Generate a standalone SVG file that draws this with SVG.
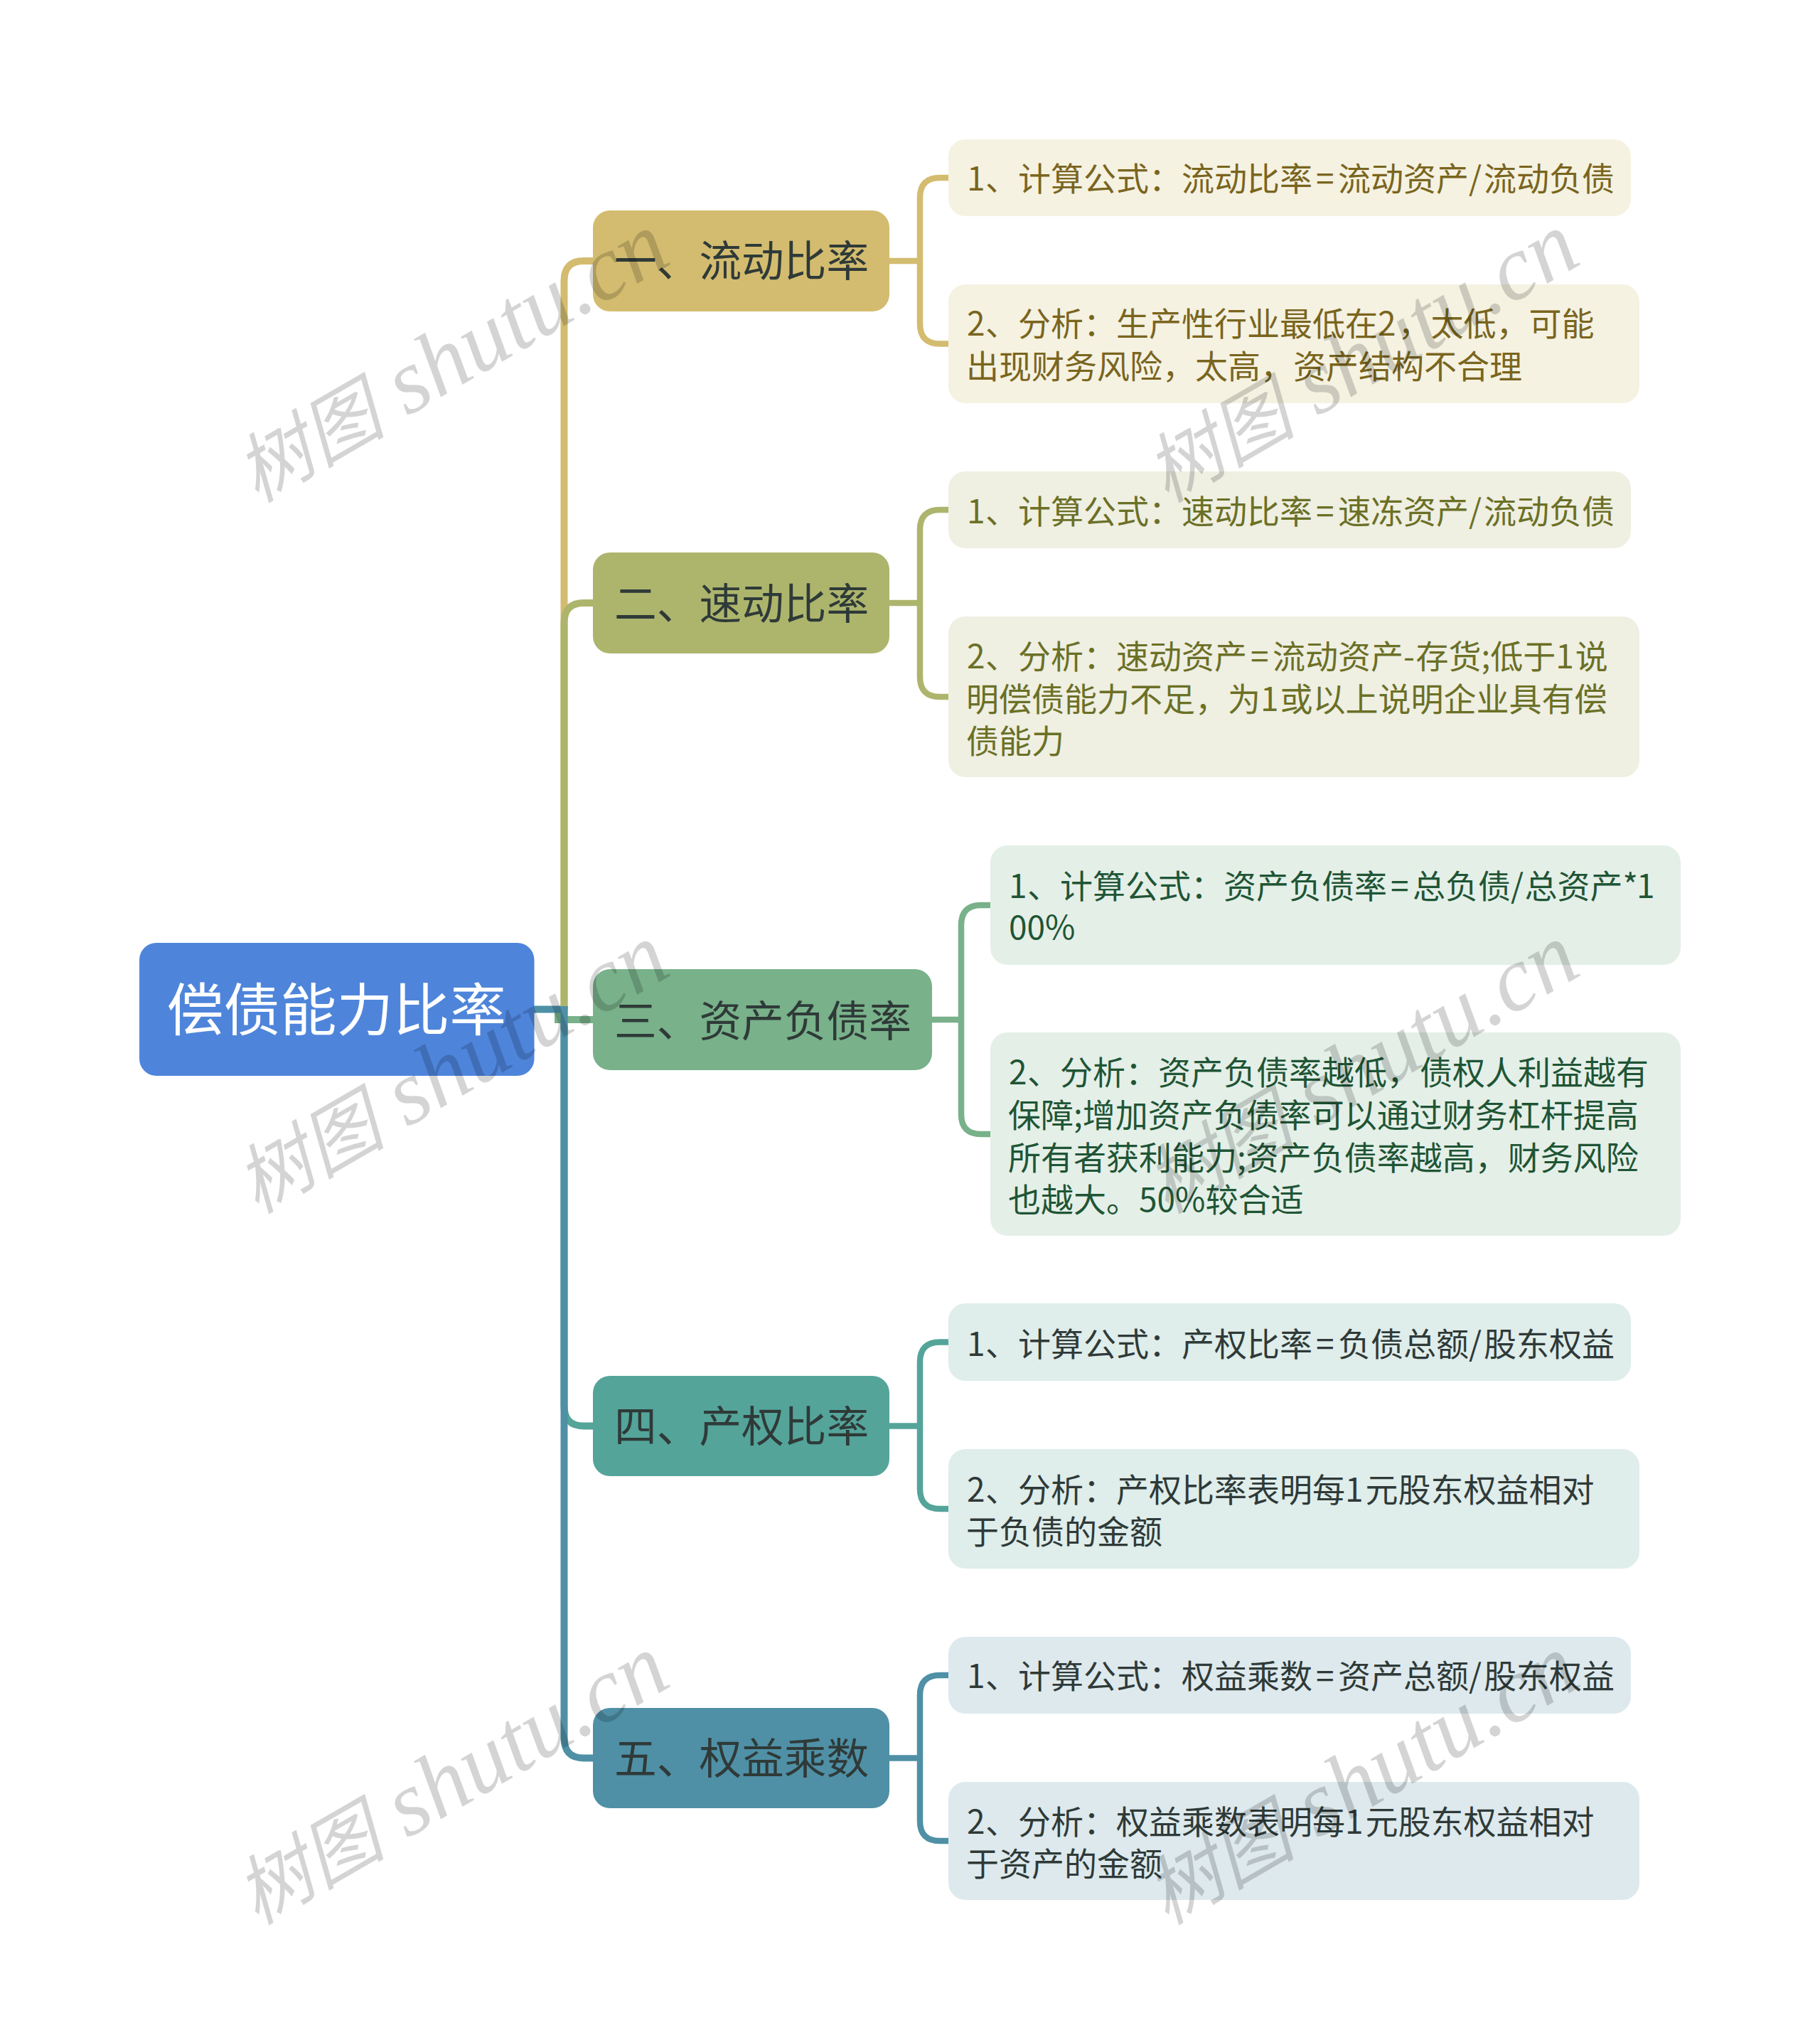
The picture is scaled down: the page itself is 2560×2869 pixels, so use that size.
<svg xmlns="http://www.w3.org/2000/svg" width="2560" height="2869" viewBox="0 0 2560 2869">
<defs><style>
text{font-family:"Noto Sans CJK SC","Noto Sans",sans-serif}
.root{font-size:79.500px;fill:#fff}
.br{font-size:59.700px;fill:#2f3a38}
.leaf{font-size:46px}
.c{fill:none;stroke-width:10}
.s{fill:none;stroke-width:8.500px}
.wm{font-family:"Liberation Serif","Noto Sans CJK SC",serif;font-style:italic;font-size:129px;fill:#000;fill-opacity:.17}
.wc{font-family:"Noto Sans CJK SC",serif;font-size:106px}
</style></defs>
<rect width="2560" height="2869" fill="#fff"/>
<g id="connectors">
<path class="c" stroke="#d3bc6f" d="M793.500 1420V395Q793.500 367 821 367H836"/>
<path class="c" stroke="#adb56d" d="M793.500 1420V876Q793.500 848 821 848H836"/>
<path class="c" stroke="#78b18a" d="M785 1420V1434H836"/>
<path class="c" stroke="#54a49a" d="M793.500 1415V1977Q793.500 2005.500 821 2005.500H836"/>
<path class="c" stroke="#4f90a6" d="M749 1419.500H789M793.500 1415V2444Q793.500 2472.500 821 2472.500H836"/>
<g stroke="#d3bc6f"><path class="s" d="M1249 367H1294"/><path class="s" d="M1336 250H1322Q1294 250 1294 278V455.500Q1294 483.500 1322 483.500H1336"/></g>
<g stroke="#adb56d"><path class="s" d="M1249 848H1294"/><path class="s" d="M1336 717H1322Q1294 717 1294 745V952Q1294 980 1322 980H1336"/></g>
<g stroke="#78b18a"><path class="s" d="M1308 1434H1352"/><path class="s" d="M1395 1273H1380Q1352 1273 1352 1301V1567Q1352 1595 1380 1595H1395"/></g>
<g stroke="#54a49a"><path class="s" d="M1249 2005.500H1294"/><path class="s" d="M1336 1887.500H1322Q1294 1887.500 1294 1915.500V2094Q1294 2122 1322 2122H1336"/></g>
<g stroke="#4f90a6"><path class="s" d="M1249 2472.500H1294"/><path class="s" d="M1336 2356H1322Q1294 2356 1294 2384V2561Q1294 2589 1322 2589H1336"/></g>
</g>
<g id="root"><rect x="196" y="1326" width="555.500" height="187" rx="24" fill="#4e85db"/><text class="root" x="235" y="1449">偿债能力比率</text></g>
<g id="b1"><rect x="834" y="296" width="417" height="142" rx="24" fill="#d3bc6f"/><text class="br" x="864" y="388.500">一、流动比率</text></g>
<g id="l11" fill="#7a651e"><rect x="1334" y="196" width="960" height="108" rx="24" fill="#f5f2e2"/><text class="leaf" x="1360" y="268">1<tspan dx="0.500">、计算公式：流动比率</tspan><tspan dx="5">=</tspan><tspan dx="5.500">流动资产/</tspan><tspan dx="3">流动负债</tspan></text></g>
<g id="l12" fill="#7a651e"><rect x="1334" y="400" width="972" height="167" rx="24" fill="#f5f2e2"/><text class="leaf" x="1360" y="472">2<tspan dx="0.500">、分析：生产性行业最低在2</tspan><tspan dx="3">，太低，可能</tspan></text><text class="leaf" x="1359" y="531.500">出现财务风险，太高，资产结构不合理</text></g>
<g id="b2"><rect x="834" y="777" width="417" height="142" rx="24" fill="#adb56d"/><text class="br" x="864" y="871">二、速动比率</text></g>
<g id="l21" fill="#6b7026"><rect x="1334" y="663" width="960" height="108" rx="24" fill="#efefe2"/><text class="leaf" x="1360" y="735.500">1<tspan dx="0.500">、计算公式：速动比率</tspan><tspan dx="5">=</tspan><tspan dx="5.500">速冻资产/</tspan><tspan dx="3">流动负债</tspan></text></g>
<g id="l22" fill="#6b7026"><rect x="1334" y="867" width="972" height="226" rx="24" fill="#efefe2"/><text class="leaf" x="1360" y="940">2<tspan dx="0.500">、分析：速动资产</tspan><tspan dx="5">=</tspan><tspan dx="5.500">流动资产-</tspan><tspan dx="1.500">存货;低于1</tspan><tspan dx="2">说</tspan></text><text class="leaf" x="1359" y="999.500">明偿债能力不足，为1<tspan dx="2">或以上说明企业具有偿</tspan></text><text class="leaf" x="1359" y="1059">债能力</text></g>
<g id="b3"><rect x="834" y="1363" width="477" height="142" rx="24" fill="#78b18a"/><text class="br" x="864" y="1457.500">三、资产负债率</text></g>
<g id="l31" fill="#1f5535"><rect x="1393" y="1189" width="971" height="168" rx="24" fill="#e4efe8"/><text class="leaf" x="1419" y="1263">1<tspan dx="0.500">、计算公式：资产负债率</tspan><tspan dx="5">=</tspan><tspan dx="5.500">总负债/</tspan><tspan dx="1.500">总资产*</tspan><tspan dx="-2">1</tspan></text><text class="leaf" x="1419" y="1321">00%</text></g>
<g id="l32" fill="#1f5535"><rect x="1393" y="1452" width="971" height="286" rx="24" fill="#e4efe8"/><text class="leaf" x="1419" y="1525">2<tspan dx="0.500">、分析：资产负债率越低，债权人利益越有</tspan></text><text class="leaf" x="1418" y="1584.500">保障;增加资产负债率可以通过财务杠杆提高</text><text class="leaf" x="1418" y="1644.500">所有者获利能力;资产负债率越高，财务风险</text><text class="leaf" x="1418" y="1704">也越大。50%较合适</text></g>
<g id="b4"><rect x="834" y="1935" width="417" height="141" rx="24" fill="#54a49a"/><text class="br" x="864" y="2027.500">四、产权比率</text></g>
<g id="l41" fill="#2f3a38"><rect x="1334" y="1833" width="960" height="109" rx="24" fill="#dfedeb"/><text class="leaf" x="1360" y="1907">1<tspan dx="0.500">、计算公式：产权比率</tspan><tspan dx="5">=</tspan><tspan dx="5.500">负债总额/</tspan><tspan dx="3">股东权益</tspan></text></g>
<g id="l42" fill="#2f3a38"><rect x="1334" y="2038" width="972" height="168" rx="24" fill="#dfedeb"/><text class="leaf" x="1360" y="2111.500">2<tspan dx="0.500">、分析：产权比率表明每1</tspan><tspan dx="3">元股东权益相对</tspan></text><text class="leaf" x="1359" y="2171">于负债的金额</text></g>
<g id="b5"><rect x="834" y="2402" width="417" height="141" rx="24" fill="#4f90a6"/><text class="br" x="864" y="2494.500">五、权益乘数</text></g>
<g id="l51" fill="#2f3a38"><rect x="1334" y="2302" width="960" height="108" rx="24" fill="#dde9ed"/><text class="leaf" x="1360" y="2374">1<tspan dx="0.500">、计算公式：权益乘数</tspan><tspan dx="5">=</tspan><tspan dx="5.500">资产总额/</tspan><tspan dx="3">股东权益</tspan></text></g>
<g id="l52" fill="#2f3a38"><rect x="1334" y="2506" width="972" height="166" rx="24" fill="#dde9ed"/><text class="leaf" x="1360" y="2578.500">2<tspan dx="0.500">、分析：权益乘数表明每1</tspan><tspan dx="3">元股东权益相对</tspan></text><text class="leaf" x="1359" y="2638">于资产的金额</text></g>
<g id="watermarks">
<text class="wm" transform="translate(361 708) rotate(-30)"><tspan class="wc">树图</tspan> shutu.cn</text>
<text class="wm" transform="translate(1641 708) rotate(-30)"><tspan class="wc">树图</tspan> shutu.cn</text>
<text class="wm" transform="translate(361 1708) rotate(-30)"><tspan class="wc">树图</tspan> shutu.cn</text>
<text class="wm" transform="translate(1641 1708) rotate(-30)"><tspan class="wc">树图</tspan> shutu.cn</text>
<text class="wm" transform="translate(361 2708) rotate(-30)"><tspan class="wc">树图</tspan> shutu.cn</text>
<text class="wm" transform="translate(1641 2708) rotate(-30)"><tspan class="wc">树图</tspan> shutu.cn</text>
</g>
</svg>
